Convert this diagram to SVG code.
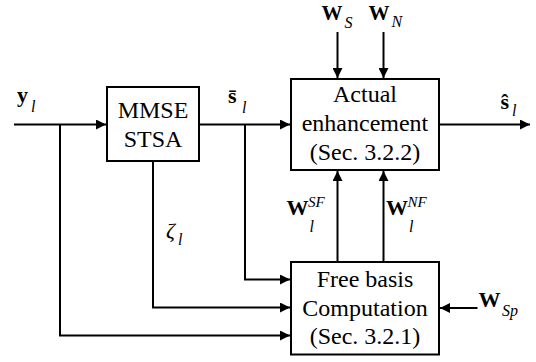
<svg xmlns="http://www.w3.org/2000/svg" width="536" height="362" viewBox="0 0 536 362">
<style>
.box{fill:#fff;stroke:#000;stroke-width:2}
.ln{fill:none;stroke:#000;stroke-width:2}
.t{font-family:"Liberation Serif","Times New Roman",serif;font-size:24px;fill:#000;text-anchor:middle}
.b{font-family:"Liberation Serif","Times New Roman",serif;font-size:22px;font-weight:bold;fill:#000}
.i{font-family:"Liberation Serif","Times New Roman",serif;font-size:16px;font-style:italic;fill:#000}
</style>
<defs>
<marker id="ah" viewBox="0 0 10 10" refX="10" refY="5" markerWidth="10" markerHeight="10" markerUnits="userSpaceOnUse" orient="auto">
<path d="M0,0 L10,5 L0,10 z" fill="#000"/>
</marker>
</defs>
<g id="connectors">
<line class="ln" x1="14" y1="124.5" x2="106" y2="124.5" marker-end="url(#ah)"/>
<line class="ln" x1="199" y1="124.5" x2="290" y2="124.5" marker-end="url(#ah)"/>
<line class="ln" x1="439" y1="124.5" x2="530" y2="124.5" marker-end="url(#ah)"/>
<line class="ln" x1="337.5" y1="32" x2="337.5" y2="78" marker-end="url(#ah)"/>
<line class="ln" x1="383.5" y1="32" x2="383.5" y2="78" marker-end="url(#ah)"/>
<line class="ln" x1="337.5" y1="262" x2="337.5" y2="171" marker-end="url(#ah)"/>
<line class="ln" x1="383.5" y1="262" x2="383.5" y2="171" marker-end="url(#ah)"/>
<polyline class="ln" points="60,124.5 60,335.5 290,335.5" marker-end="url(#ah)"/>
<polyline class="ln" points="153,161 153,307.5 290,307.5" marker-end="url(#ah)"/>
<polyline class="ln" points="245,124.5 245,279.5 290,279.5" marker-end="url(#ah)"/>
<line class="ln" x1="477.5" y1="308" x2="440" y2="308" marker-end="url(#ah)"/>
</g>
<g id="mmse">
<rect class="box" x="107" y="87" width="92" height="74"/>
<text class="t" x="153" y="117.5">MMSE</text>
<text class="t" x="153" y="146.5">STSA</text>
</g>
<g id="actual">
<rect class="box" x="291" y="79" width="148" height="91"/>
<text class="t" x="365" y="102">Actual</text>
<text class="t" x="365" y="131">enhancement</text>
<text class="t" x="365" y="159.5">(Sec. 3.2.2)</text>
</g>
<g id="freebasis">
<rect class="box" x="291" y="262" width="148" height="92.5"/>
<text class="t" x="365" y="286.5">Free basis</text>
<text class="t" x="365" y="315.5">Computation</text>
<text class="t" x="365" y="344">(Sec. 3.2.1)</text>
</g>
<g id="labels">
<text class="b" x="17" y="102">y</text><text class="i" x="31" y="112">l</text>
<text class="b" x="228" y="103">s̄</text><text class="i" x="242" y="113">l</text>
<text class="b" x="500.5" y="109">ŝ</text><text class="i" x="512" y="116">l</text>
<text class="b" x="321.5" y="19.5" style="font-size:21px">W</text><text class="i" x="344.5" y="28">S</text>
<text class="b" x="368.5" y="19.5" style="font-size:21px">W</text><text class="i" x="391.5" y="27">N</text>
<text class="b" x="286.5" y="215">W</text><text class="i" x="308" y="207" style="font-size:15px">SF</text><text class="i" x="309.5" y="232">l</text>
<text class="b" x="386" y="215">W</text><text class="i" x="407.5" y="207" style="font-size:15px">NF</text><text class="i" x="409" y="232">l</text>
<text class="b" x="478.5" y="307">W</text><text class="i" x="502" y="316">Sp</text>
<text class="i" x="166" y="238" style="font-size:22px">ζ</text><text class="i" x="178" y="245">l</text>
</g>
</svg>
